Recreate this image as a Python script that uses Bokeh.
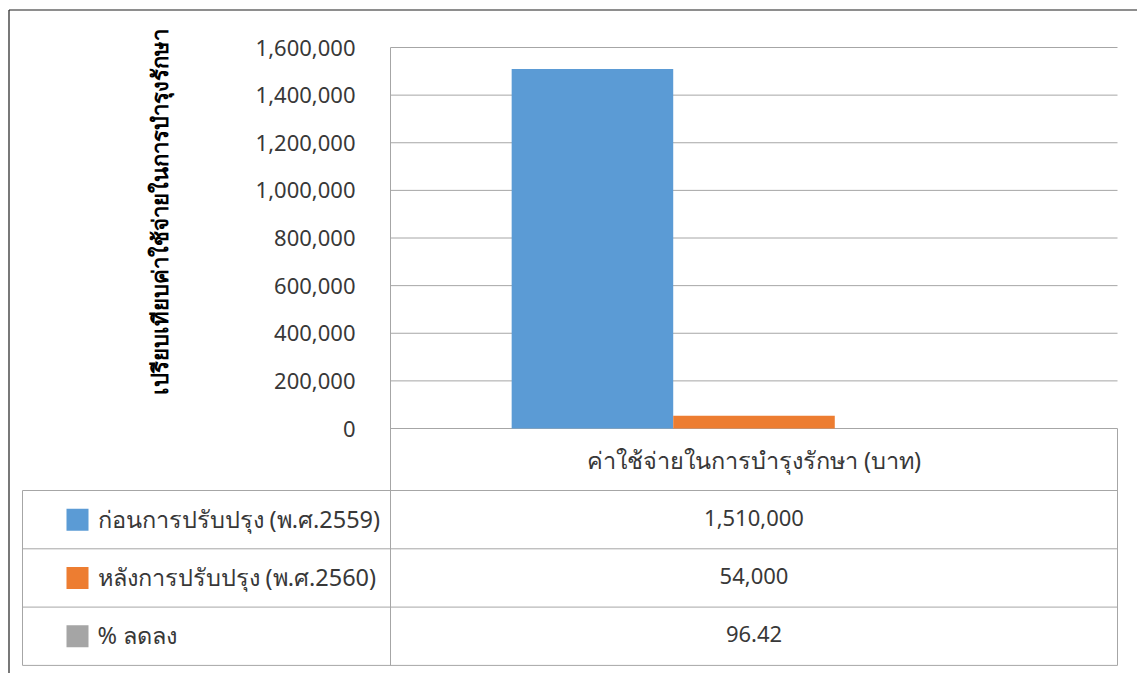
import math
from bokeh.plotting import figure
from bokeh.models import Range1d, ColumnDataSource
from bokeh.core.properties import value
from bokeh.embed import file_html
from bokeh.resources import INLINE

# ---------------- data ----------------
category = "ค่าใช้จ่ายในการบำรุงรักษา (บาท)"
series = ["ก่อนการปรับปรุง (พ.ศ.2559)", "หลังการปรับปรุง (พ.ศ.2560)", "% ลดลง"]
values = [1510000, 54000, 96.42]
colors = ["#5b9bd5", "#ed7d31", "#a5a5a5"]
y_ticks = [0, 200000, 400000, 600000, 800000, 1000000, 1200000, 1400000, 1600000]
y_label = "เปรียบเทียบค่าใช้จ่ายในการบำรุงรักษา"

# ---------------- layout constants (pixels) ----------------
W, H = 1137, 673
FL, FR, FT, FB = 390, 1117, 47, 428      # plot area
TABLE_LEFT = 22
HEADER_H = 62
ROW_H = 58.3
GAP = 1.5                                # Excel gap width (150 %)
FONT = "Noto Sans"
FS = "22px"
FS_TH = "23.5px"
TXT = "#383838"
GRID = "#a6a6a6"
BORDER = "#1f1f1f"

n = len(series)
ymax = y_ticks[-1]

# page coordinates: x to the right, y downwards (pixels)
p = figure(x_range=Range1d(0, W), y_range=Range1d(H, 0), width=W, height=H,
           output_backend="svg", toolbar_location=None,
           x_axis_location=None, y_axis_location=None,
           min_border=0, min_border_left=0, min_border_right=0,
           min_border_top=0, min_border_bottom=0,
           background_fill_color="white", border_fill_color="white")
p.outline_line_color = None
p.xgrid.visible = False
p.ygrid.visible = False

# category (bar) scale: bars occupy the plot area FL..FR
b0, b1 = -0.5 - GAP / 2, n - 0.5 + GAP / 2
ppu = (FR - FL) / (b1 - b0)
# value scale: 0 at FB, ymax at FT
vpp = ymax / (FB - FT)
p.extra_x_ranges = {"bars": Range1d(b0 - FL / ppu, b1 + (W - FR) / ppu)}
p.extra_y_ranges = {"val": Range1d(-(H - FB) * vpp, ymax + FT * vpp)}

# gridlines from tick values
p.segment(x0=FL, x1=FR, y0=y_ticks, y1=y_ticks, y_range_name="val",
          line_color=GRID, line_width=1)

# bars
src = ColumnDataSource(dict(x=list(range(n)), top=values, color=colors, name=series))
p.vbar(x="x", top="top", bottom=0, width=1.0, fill_color="color", line_color=None,
       source=src, x_range_name="bars", y_range_name="val")

# tick labels
p.text(x=FL - 35, y=y_ticks, text=[f"{t:,}" for t in y_ticks], y_range_name="val",
       text_align="right", text_baseline="middle", text_font=value(FONT),
       text_font_size=value(FS), text_color=TXT)

# y axis title
p.text(x=[158], y=[(FT + FB) / 2 - 26], text=[y_label], angle=math.pi / 2,
       text_align="center", text_baseline="middle", text_font=value(FONT),
       text_font_size=value(FS), text_font_style="bold", text_color="black")

# ---------------- data table ----------------
row_tops = [FB + HEADER_H + i * ROW_H for i in range(n + 1)]
table_bottom = row_tops[-1]

hx0 = [TABLE_LEFT] * len(row_tops)
hx1 = [FR] * len(row_tops)
p.segment(x0=hx0, x1=hx1, y0=row_tops, y1=row_tops, line_color=GRID, line_width=1)
p.segment(x0=[FL, FR, TABLE_LEFT], x1=[FL, FR, TABLE_LEFT],
          y0=[FT, FB, row_tops[0]], y1=[table_bottom] * 3,
          line_color=GRID, line_width=1)

row_centers = [t + ROW_H / 2 for t in row_tops[:-1]]
value_texts = [f"{v:,.0f}" if float(v).is_integer() else f"{v:.2f}" for v in values]

p.text(x=[(FL + FR) / 2], y=[FB + HEADER_H / 2], text=[category],
       text_align="center", text_baseline="middle", text_font=value(FONT),
       text_font_size=value(FS_TH), text_color=TXT)
p.text(x=[(FL + FR) / 2] * n, y=[c - 2 for c in row_centers], text=value_texts,
       text_align="center", text_baseline="middle", text_font=value(FONT),
       text_font_size=value(FS), text_color=TXT)
p.rect(x=[77] * n, y=row_centers, width=22, height=22, fill_color=colors,
       line_color=None)
p.text(x=[97] * n, y=[c - 1 for c in row_centers], text=series,
       text_align="left", text_baseline="middle", text_font=value(FONT),
       text_font_size=value(FS_TH), text_color=TXT)

# outer chart border
p.segment(x0=[8.5, 8.5], x1=[8.5, W], y0=[9.5, 9.5], y1=[H, 9.5],
          line_color=BORDER, line_width=1.2)

open("out.html", "w").write(file_html(p, INLINE))
